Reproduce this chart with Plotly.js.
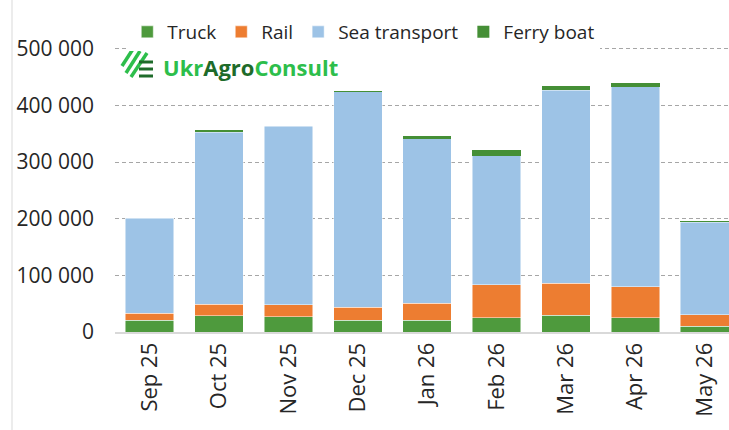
<!DOCTYPE html>
<html>
<head>
<meta charset="utf-8">
<script src="https://cdn.plot.ly/plotly-3.0.1.min.js"></script>
<style>html,body{margin:0;padding:0;background:#fff;}#chart{width:729px;height:430px;}</style>
</head>
<body>
<div id="chart"></div>
<script>
const months = ["Sep 25","Oct 25","Nov 25","Dec 25","Jan 26","Feb 26","Mar 26","Apr 26","May 26"];
const truck = [21000, 29000, 27000, 21000, 21000, 25000, 29500, 25000, 10600];
const rail  = [12500, 20000, 21000, 23000, 30000, 58000, 57000, 55000, 20000];
const sea   = [167000, 304000, 315000, 380000, 290000, 228500, 340000, 353000, 163500];
const ferry = [1000, 3500, 1500, 2000, 4500, 10000, 8000, 7000, 2500];
const yTicks = [0, 100000, 200000, 300000, 400000, 500000];
const yTickText = ["0", "100 000", "200 000", "300 000", "400 000", "500 000"];

const green = "#4E9A3D";
const line = {color: "rgba(255,255,255,0.6)", width: 0.8};
const traces = [
  {name: "Truck", x: months, y: truck, type: "bar", marker: {color: green, line: line}},
  {name: "Rail", x: months, y: rail, type: "bar", marker: {color: "#ED7D31", line: line}},
  {name: "Sea transport", x: months, y: sea, type: "bar", marker: {color: "#9DC3E6", line: line}},
  {name: "Ferry boat", x: months, y: ferry, type: "bar", marker: {color: "#458F36", line: {width: 0}}}
];

// paper coordinate helpers (plot area: x 115..729 px, y 46..332 px)
const L = 115, R = 729, T = 46, B = 332;
const px = v => (v - L) / (R - L);
const py = v => (B - v) / (B - T);

const shapes = [
  {type: "line", xref: "paper", yref: "paper", x0: px(12), x1: px(12), y0: py(0), y1: py(430),
   line: {color: "#d9d9d9", width: 1}}
];
// logo icon: diagonal stripes + horizontal bars
const diag = [[122,66,133,49],[126,73,140,51],[131,77,147,53]];
diag.forEach(d => shapes.push({type: "line", xref: "paper", yref: "paper",
  x0: px(d[0]), y0: py(d[1]), x1: px(d[2]), y1: py(d[3]), line: {color: "#2DBE4B", width: 3.5}}));
[62, 69, 76].forEach(y => shapes.push({type: "line", xref: "paper", yref: "paper",
  x0: px(139), y0: py(y), x1: px(153), y1: py(y), line: {color: "#1E6B2A", width: 3}}));

const layout = {
  width: 729, height: 430,
  margin: {l: L, r: 0, t: T, b: 430 - B, pad: 0, autoexpand: false},
  paper_bgcolor: "#fff", plot_bgcolor: "#fff",
  barmode: "stack", bargap: 0.3,
  font: {family: "Open Sans, Noto Sans, sans-serif", size: 19, color: "#262626"},
  showlegend: true,
  legend: {orientation: "h", x: 0.02, xanchor: "left", y: py(32), yanchor: "middle",
    font: {size: 19, color: "#262626"}, traceorder: "normal", itemwidth: 30},
  xaxis: {type: "category", range: [-0.5, 8.35], tickangle: -90, showgrid: false,
    showline: true, linecolor: "#d9d9d9", linewidth: 2, ticks: "", fixedrange: true,
    tickfont: {size: 22, color: "#262626"}},
  yaxis: {range: [0, 505000], tickvals: yTicks, ticktext: yTickText, showgrid: true,
    gridcolor: "#a6a6a6", griddash: "4px,3px", gridwidth: 1, zeroline: false,
    ticks: "", ticklabelstandoff: 20, tickfont: {size: 21, color: "#262626"}, fixedrange: true},
  shapes: shapes,
  annotations: [
    {xref: "paper", yref: "paper", x: px(161), y: py(67), xanchor: "left", yanchor: "middle",
     showarrow: false, font: {family: "Open Sans, sans-serif", size: 22, color: "#2DBE4B"},
     text: "<b><span style='color:#2DBE4B'>Ukr</span><span style='color:#1E6B2A'>Agro</span><span style='color:#2DBE4B'>Consult</span></b>"}
  ]
};

Plotly.newPlot("chart", traces, layout, {displayModeBar: false, staticPlot: true});
</script>
</body>
</html>
